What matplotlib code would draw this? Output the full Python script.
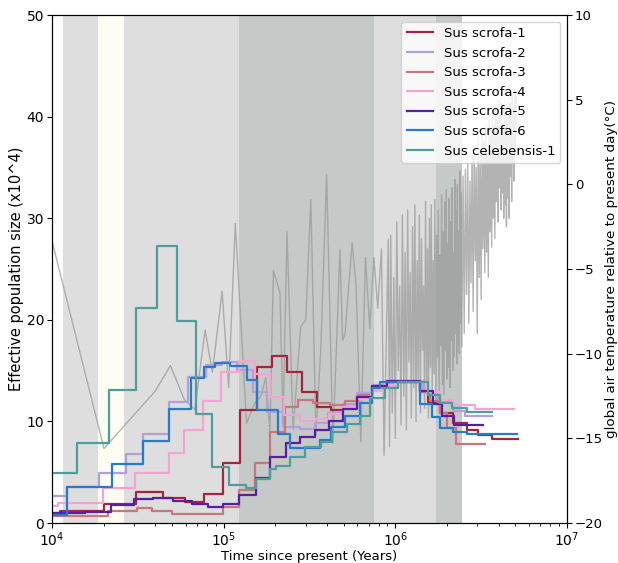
import matplotlib
matplotlib.use("Agg")
import matplotlib.pyplot as plt
import numpy as np

# ---------------- data ----------------
series_names = ["Sus scrofa-1", "Sus scrofa-2", "Sus scrofa-3", "Sus scrofa-4",
                "Sus scrofa-5", "Sus scrofa-6", "Sus celebensis-1"]
series_colors = ["#a3263c", "#b3a0d6", "#c8777f", "#f2a5d5", "#5a1f9f", "#2a7acb", "#4f9e9c"]

# step start times (years) and Ne (x10^4); *_end is the end time of the last step
s1_t = [1.0e4, 1.11e4, 2.0e4, 3.09e4, 4.42e4, 5.95e4, 7.69e4, 9.91e4, 1.244e5, 1.56e5, 1.92e5,
        2.34e5, 2.85e5, 3.48e5, 4.2e5, 4.95e5, 5.97e5, 7.3e5, 8.9e5, 1.39e6, 1.55e6, 1.83e6,
        2.17e6, 2.61e6, 3.03e6, 3.65e6]
s1_ne = [1.0, 1.2, 1.9, 3.05, 2.5, 2.1, 2.9, 5.9, 11.1, 15.4, 16.4, 14.9, 12.9, 11.4, 11.1, 11.4,
         12.4, 13.5, 13.9, 12.9, 11.9, 10.8, 9.8, 9.2, 8.7, 8.3]
s1_end = 5.2e6

s2_t = [1.0e4, 1.22e4, 1.886e4, 2.70e4, 3.40e4, 4.82e4, 6.17e4, 7.85e4, 9.73e4, 1.19e5, 1.48e5,
        1.79e5, 2.21e5, 2.78e5, 3.40e5, 4.05e5, 4.95e5, 5.97e5, 7.3e5, 8.9e5, 1.45e6, 1.78e6,
        2.17e6, 2.55e6]
s2_ne = [2.65, 3.5, 4.95, 6.8, 8.8, 11.9, 14.4, 15.6, 15.9, 15.1, 12.9, 10.9, 9.5, 9.25, 9.8,
         10.8, 11.7, 12.8, 13.6, 14.0, 12.9, 11.9, 11.0, 10.5]
s2_end = 3.65e6

s3_t = [1.0e4, 2.13e4, 3.11e4, 3.82e4, 4.98e4, 9.91e4, 1.23e5, 1.52e5, 1.86e5, 2.28e5, 2.7e5,
        3.3e5, 4.15e5, 5.1e5, 6.05e5, 7.3e5, 8.9e5, 1.39e6, 1.6e6, 1.83e6, 2.0e6, 2.25e6]
s3_ne = [0.65, 1.2, 1.5, 1.2, 0.9, 1.6, 3.3, 5.9, 9.0, 11.4, 12.1, 11.8, 11.6, 12.0, 12.6, 13.3,
         13.9, 12.9, 12.0, 10.8, 9.4, 7.8]
s3_end = 3.33e6

s4_t = [1.0e4, 1.084e4, 1.99e4, 3.04e4, 4.83e4, 5.87e4, 7.57e4, 9.71e4, 1.23e5, 1.52e5, 1.86e5,
        2.25e5, 2.78e5, 3.40e5, 4.1e5, 4.95e5, 5.97e5, 7.2e5, 8.7e5, 9.9e5, 1.52e6, 1.83e6,
        2.17e6, 2.9e6]
s4_ne = [1.65, 2.0, 3.4, 4.9, 6.9, 9.2, 12.0, 14.9, 16.0, 14.7, 12.4, 10.6, 10.0, 10.2, 10.7,
         11.4, 12.2, 13.0, 13.6, 13.9, 12.9, 12.1, 11.6, 11.2]
s4_end = 4.92e6

s5_t = [1.0e4, 1.56e4, 2.21e4, 3.0e4, 3.87e4, 5.07e4, 6.53e4, 8.1e4, 9.91e4, 1.236e5, 1.544e5,
        1.875e5, 2.31e5, 2.78e5, 3.40e5, 4.1e5, 4.95e5, 6.0e5, 7.3e5, 8.9e5, 1.39e6, 1.66e6,
        1.87e6, 2.2e6]
s5_ne = [0.95, 1.1, 1.8, 2.35, 2.5, 2.2, 1.85, 1.6, 1.85, 2.75, 4.4, 6.55, 7.9, 8.5, 9.2, 10.05,
         11.2, 12.45, 13.5, 14.0, 13.0, 11.7, 10.5, 9.7]
s5_end = 3.25e6

s6_t = [1.0e4, 1.23e4, 2.23e4, 3.40e4, 4.82e4, 6.46e4, 7.7e4, 8.9e4, 1.09e5, 1.36e5, 1.57e5,
        2.08e5, 2.43e5, 3.63e5, 4.2e5, 5.1e5, 6.2e5, 7.3e5, 8.1e5, 1.39e6, 1.64e6, 1.83e6,
        2.17e6, 2.61e6]
s6_ne = [0.8, 3.5, 5.8, 8.1, 11.2, 14.3, 15.4, 15.8, 15.5, 14.1, 11.1, 8.8, 7.4, 8.2, 9.5, 10.5,
         11.8, 13.3, 13.9, 11.7, 10.4, 9.4, 9.0, 8.8]
s6_end = 5.1e6

s7_t = [1.0e4, 1.40e4, 2.15e4, 3.07e4, 4.10e4, 5.35e4, 6.87e4, 8.6e4, 1.08e5, 1.35e5, 1.54e5,
        1.86e5, 2.02e5, 2.43e5, 2.98e5, 3.70e5, 4.30e5, 5.2e5, 6.2e5, 7.1e5, 8.7e5, 1.03e6,
        1.55e6, 1.83e6, 2.15e6, 2.61e6]
s7_ne = [4.9, 7.9, 13.1, 21.2, 27.3, 19.85, 10.7, 5.5, 3.7, 3.4, 4.3, 5.3, 5.6, 6.5, 7.5, 8.0,
         9.0, 9.75, 10.5, 12.3, 13.3, 13.9, 12.6, 11.8, 11.3, 10.9]
s7_end = 3.65e6

series_t = [s1_t, s2_t, s3_t, s4_t, s5_t, s6_t, s7_t]
series_ne = [s1_ne, s2_ne, s3_ne, s4_ne, s5_ne, s6_ne, s7_ne]
series_end = [s1_end, s2_end, s3_end, s4_end, s5_end, s6_end, s7_end]

# global air temperature record (time in kyr, temperature in degC)
temp_t_kyr = [10, 20.1, 40, 49, 59, 68, 78, 86, 98, 107, 117, 136, 152, 165, 176, 186, 195, 213,
              222, 234, 254, 281, 301, 322, 345, 369, 398, 433, 476, 493, 510, 560, 590, 630,
              670, 710, 750, 790, 830, 860, 910, 925,
              940, 960, 980, 1000, 1020, 1040, 1060, 1080, 1100, 1120, 1140, 1160, 1180, 1200,
              1220, 1240, 1260, 1280, 1300, 1320, 1340, 1360, 1380, 1400, 1420, 1440, 1460,
              1480, 1500, 1520, 1540, 1560, 1580, 1600, 1620, 1640, 1660, 1680, 1700, 1720,
              1740, 1760, 1780, 1800, 1820, 1840, 1860, 1880, 1900, 1920, 1940, 1960, 1980,
              2000, 2020, 2040, 2060, 2080, 2100, 2120, 2140, 2160, 2180, 2200, 2220, 2240,
              2260, 2280, 2300, 2320, 2340, 2360, 2380, 2400, 2420, 2440,
              2480, 2520, 2560, 2600, 2640, 2680, 2720, 2760, 2800, 2840, 2880, 2920, 2960,
              3000, 3040, 3080, 3120, 3160, 3200, 3240, 3280, 3320, 3360, 3400, 3440, 3480,
              3520, 3560, 3600, 3640, 3680, 3720, 3760, 3800, 3840, 3880, 3920, 3960, 4000,
              4040, 4080, 4120, 4160, 4200, 4240, 4280, 4320, 4360, 4400, 4440, 4480, 4520,
              4560, 4600, 4640, 4680, 4720, 4760, 4800, 4840, 4880, 4920, 4960, 5000, 5040,
              5080]
temp_c = [-3.3, -15.6, -12.2, -10.7, -12.7, -13.3, -8.6, -11.1, -6.3, -12.0, -2.3, -14.1, -12.9,
          -12.5, -11.4, -14.6, -5.1, -6.4, -14.0, -2.8, -14.5, -8.4, -8.0, -0.9, -14.8, -9.5,
          0.6, -15.3, -3.85, -9.2, -8.8, -3.45, -5.85, -15.2, -4.3, -8.5, -4.3, -7.3, -3.8,
          -16.0, -3.25, -15.5,
          -3.0, -13.5, -5.5, -15.0, -2.2, -11.0, -6.0, -14.2, -1.8, -12.5, -4.0, -14.5, -1.5,
          -10.5, -5.2, -13.8, -2.5, -12.0, -1.2, -14.0, -4.5, -11.5, -1.8, -13.5, -3.2, -9.8,
          -6.0, -13.2, -1.0, -12.2, -3.8, -13.8, -2.0, -10.8, -1.2, -12.8, -4.5, -11.2, -0.9,
          -13.0, -3.0, -10.2, -1.5, -12.5, -4.2, -9.5, -0.6, -11.8, -2.8, -12.4, -1.0, -9.8,
          -0.3, -11.5, -3.5, -10.8, -0.8, -12.0, -2.2, -9.2, -0.2, -11.0, -4.0, -10.2, 0.3,
          -8.8, -1.5, -10.6, 0.0, -9.5, -2.8, -10.0, 0.8, -8.2, -0.5, -9.6,
          0.5, -8.8, 0.9, -6.5, 1.2, -8.2, 0.2, -5.8, 1.8, -7.5, 2.2, -4.5, 1.0, -8.8, 2.8,
          -5.5, 2.0, -6.8, 3.2, -3.8, 2.5, -5.2, 3.5, -4.0, 1.8, -5.5, 3.8, -2.8, 3.0, -3.7,
          4.2, -2.0, 3.5, -3.2, 4.6, -1.0, 3.8, -2.2, 5.0, -0.2, 4.2, -1.5, 4.8, -0.5, 3.6,
          -2.0, 4.5, -1.2, 3.8, -2.5, 4.4, -0.8, 4.0, -2.0, 4.8, 0.5, 3.8, -1.0, 5.2, 1.2,
          4.5, 0.2, 5.6, 2.0, 5.3, 3.0]

# shaded periods (years): (start, end, colour)
span_starts = [1.16e4, 1.85e4, 2.62e4, 1.23e5, 7.5e5, 1.72e6]
span_ends = [1.85e4, 2.62e4, 1.23e5, 7.5e5, 1.72e6, 2.44e6]
span_colors = ["#dedede", "#fdfdf4", "#dedede", "#c5c9c8", "#dedede", "#c5c9c8"]

# ---------------- plot ----------------
plt.rcParams["font.family"] = ["DejaVu Sans"]
plt.rcParams["font.size"] = 9

fig = plt.figure(figsize=(6.18, 5.63), dpi=100)
ax = fig.add_axes([0.084, 0.071, 0.8335, 0.902])
ax2 = ax.twinx()

for s, e, c in zip(span_starts, span_ends, span_colors):
    ax2.axvspan(s, e, color=c, lw=0, zorder=0)

ax2.plot(np.array(temp_t_kyr) * 1000.0, temp_c, color="#9a9a9a", lw=1.0, alpha=0.75, zorder=1)
ax2.set_ylim(-20, 10)
ax2.tick_params(axis="y", labelsize=9.5, pad=2)
ax2.set_ylabel("global air temperature relative to present day(°C)", fontsize=9.7)
ax2.yaxis.set_label_coords(1.073, 0.5)

ax.set_zorder(ax2.get_zorder() + 1)
ax.patch.set_visible(False)

for name, col, t, ne, end in zip(series_names, series_colors, series_t, series_ne, series_end):
    ax.step(list(t) + [end], list(ne) + [ne[-1]], where="post", color=col, lw=1.6, label=name)

ax.set_xscale("log")
ax.set_xlim(1e4, 1e7)
ax.set_ylim(0, 50)
ax.tick_params(axis="x", labelsize=10, pad=1.5)
ax.tick_params(axis="y", labelsize=10, pad=2)
ax.set_xlabel("Time since present (Years)", fontsize=9.5, labelpad=1)
ax.set_ylabel("Effective population size (x10^4)", fontsize=10.5, labelpad=2)
ax.legend(loc="upper right", fontsize=9.5, framealpha=0.8)

fig.savefig("out.png", dpi=100)
